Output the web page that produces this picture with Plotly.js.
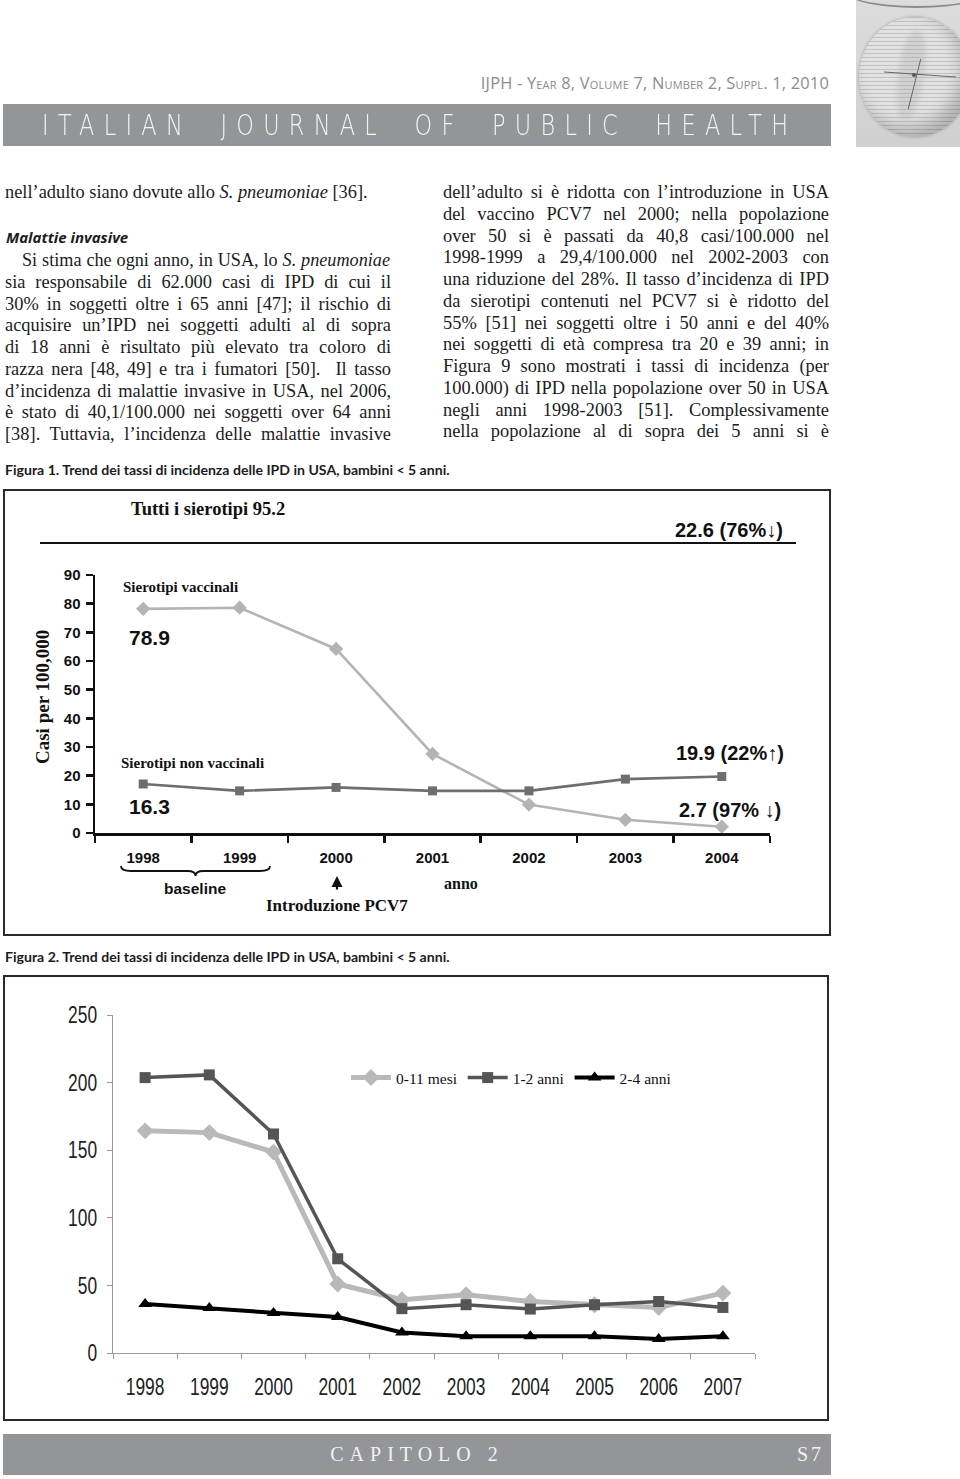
<!DOCTYPE html>
<html><head><meta charset="utf-8">
<script src="https://cdn.plot.ly/plotly-3.0.1.min.js"></script>
<style>
html,body{margin:0;padding:0;background:#fff;}
body{width:960px;height:1479px;position:relative;overflow:hidden;font-family:'Liberation Serif',serif;}
.abs{position:absolute;}
.ln{position:absolute;width:386px;height:22px;line-height:22px;font-size:18.4px;color:#1c1c1c;text-align:justify;text-align-last:justify;white-space:nowrap;}
.left{text-align-last:left;}
.cap{position:absolute;left:5px;font-family:'Lato',sans-serif;font-weight:bold;font-size:14.1px;color:#1c1c1c;line-height:16px;}
.box{position:absolute;border:2px solid #2a2a2a;background:#fff;box-sizing:border-box;}
</style>
</head><body>

<!-- header -->
<div class="abs" style="left:0;top:71px;width:829px;text-align:right;font-family:'Open Sans',sans-serif;font-size:16.4px;color:#8a8c8f;font-variant:small-caps;letter-spacing:0.2px;">IJPH - Year 8, Volume 7, Number 2, Suppl. 1, 2010</div>
<div class="abs" style="left:3px;top:104px;width:828px;height:42px;background:#939598;"></div>
<div class="abs" style="left:42px;top:106px;height:40px;line-height:40px;font-family:'DejaVu Sans',sans-serif;font-weight:200;font-size:28px;color:#f4f4f4;letter-spacing:11.6px;word-spacing:15px;white-space:nowrap;transform:scaleX(0.8);transform-origin:left center;">ITALIAN JOURNAL OF PUBLIC HEALTH</div>
<div class="abs" style="left:856px;top:0;width:104px;height:147px;background:linear-gradient(180deg,#dcdcdc,#d0d0d0);overflow:hidden;">
  <div class="abs" style="left:-14px;top:-30px;width:150px;height:36px;border-bottom:2px solid #8a8a8a;border-radius:50%;"></div>
  <div class="abs" style="left:3px;top:17px;width:112px;height:120px;border-radius:50%;background:repeating-linear-gradient(180deg,#c2c2c2 0px,#c2c2c2 1.5px,#e2e2e2 1.5px,#e2e2e2 4px);box-shadow:inset -9px -9px 16px rgba(0,0,0,0.22),0 0 3px #999;"></div>
  <div class="abs" style="left:42px;top:30px;width:26px;height:90px;border-radius:45%;background:rgba(150,150,150,0.22);filter:blur(2px);transform:rotate(8deg);"></div>
  <div class="abs" style="left:28px;top:74px;width:72px;height:1px;background:#666;transform:rotate(4deg);"></div>
  <div class="abs" style="left:58px;top:58px;width:1px;height:52px;background:#666;transform:rotate(14deg);"></div>
  <div class="abs" style="left:56px;top:73px;width:4px;height:4px;border-radius:50%;background:#555;"></div>
</div>

<!-- text columns -->
<div id="colL"></div>
<div id="colR"></div>

<div class="cap" style="top:462px;">Figura 1. Trend dei tassi di incidenza delle IPD in USA, bambini &lt; 5 anni.</div>
<div class="box" style="left:3px;top:489px;width:828px;height:447px;"><div id="fig1" style="width:824px;height:443px;"></div></div>

<div class="cap" style="top:949px;">Figura 2. Trend dei tassi di incidenza delle IPD in USA, bambini &lt; 5 anni.</div>
<div class="box" style="left:3px;top:975px;width:826px;height:446px;"><div id="fig2" style="width:822px;height:442px;"></div></div>

<!-- footer -->
<div class="abs" style="left:3px;top:1434px;width:828px;height:41px;background:#939598;"></div>
<div class="abs" style="left:3px;top:1434px;width:828px;height:41px;line-height:41px;text-align:center;font-family:'Liberation Serif',serif;font-size:20px;color:#f2f2f2;letter-spacing:6px;">CAPITOLO 2</div>
<div class="abs" style="left:780px;top:1434px;width:44px;height:41px;line-height:41px;text-align:right;font-family:'Liberation Serif',serif;font-size:20px;color:#f2f2f2;letter-spacing:3px;">S7</div>

<script>
// ---------- text lines ----------
const leftLines = [
  "nell’adulto siano dovute allo <i>S. pneumoniae</i> [36].",
  "Si stima che ogni anno, in USA, lo <i>S. pneumoniae</i>",
  "sia responsabile di 62.000 casi di IPD di cui il",
  "30% in soggetti oltre i 65 anni [47]; il rischio di",
  "acquisire un’IPD nei soggetti adulti al di sopra",
  "di 18 anni è risultato più elevato tra coloro di",
  "razza nera [48, 49] e tra i fumatori [50].&nbsp; Il tasso",
  "d’incidenza di malattie invasive in USA, nel 2006,",
  "è stato di 40,1/100.000 nei soggetti over 64 anni",
  "[38]. Tuttavia, l’incidenza delle malattie invasive"
];
const rightLines = [
  "dell’adulto si è ridotta con l’introduzione in USA",
  "del vaccino PCV7 nel 2000; nella popolazione",
  "over 50 si è passati da 40,8 casi/100.000 nel",
  "1998-1999 a 29,4/100.000 nel 2002-2003 con",
  "una riduzione del 28%. Il tasso d’incidenza di IPD",
  "da sierotipi contenuti nel PCV7 si è ridotto del",
  "55% [51] nei soggetti oltre i 50 anni e del 40%",
  "nei soggetti di età compresa tra 20 e 39 anni; in",
  "Figura 9 sono mostrati i tassi di incidenza (per",
  "100.000) di IPD nella popolazione over 50 in USA",
  "negli anni 1998-2003 [51]. Complessivamente",
  "nella popolazione al di sopra dei 5 anni si è"
];
const heading = "Malattie invasive";

(function(){
  const L = document.getElementById('colL');
  let h = '';
  h += '<div class="ln left" style="left:5px;top:181px;">'+leftLines[0]+'</div>';
  h += '<div class="abs" style="left:6px;top:226px;font-family:\'Open Sans\',sans-serif;font-weight:bold;font-style:italic;font-size:15px;color:#1c1c1c;line-height:22px;">'+heading+'</div>';
  for (let i=1;i<leftLines.length;i++){
    const top = 249 + (i-1)*21.75;
    const ind = (i===1)? 'left:22px;width:368px;' : 'left:5px;';
    h += '<div class="ln" style="'+ind+'top:'+top+'px;">'+leftLines[i]+'</div>';
  }
  L.innerHTML = h;
  const R = document.getElementById('colR');
  let r = '';
  for (let i=0;i<rightLines.length;i++){
    const top = 181 + i*21.75;
    r += '<div class="ln" style="left:443px;top:'+top+'px;">'+rightLines[i]+'</div>';
  }
  R.innerHTML = r;
  document.querySelectorAll('.ln').forEach(el=>{
    const w = el.clientWidth;
    let fs = 18.4;
    while (el.scrollWidth > w + 0.5 && fs > 15) { fs -= 0.2; el.style.fontSize = fs+'px'; }
  });
})();

// ---------- Figure 1 data ----------
const years1 = ['1998','1999','2000','2001','2002','2003','2004'];
const sierotipiVaccinali = [78.2, 78.6, 64.2, 27.6, 9.9, 4.6, 2.2];
const sierotipiNonVaccinali = [17.1, 14.7, 15.9, 14.7, 14.7, 18.8, 19.7];

const F1 = {x0:95, x1:770, y0:833, y1:575};
const p1x = x => (x - F1.x0)/(F1.x1 - F1.x0);
const p1y = y => (F1.y0 - y)/(F1.y0 - F1.y1);
const ser = "'Liberation Serif', 'Times New Roman', serif";
const san = "'Liberation Sans', Arial, sans-serif";

function ann1(text, x, y, opts){
  return Object.assign({text:text, xref:'paper', yref:'paper', x:p1x(x), y:p1y(y), showarrow:false,
    xanchor:'left', yanchor:'middle', font:{family:san, size:17, color:'#111', weight:'bold'}}, opts||{});
}
function bracePath(xa, xb, yt, yb){
  const xm = (xa+xb)/2, ym=(yt+yb)/2;
  const P = (x,y)=> p1x(x).toFixed(4)+','+p1y(y).toFixed(4);
  return 'M'+P(xa,yt)+' Q'+P(xa,ym)+' '+P(xa+10,ym)+' L'+P(xm-8,ym)+' Q'+P(xm,ym)+' '+P(xm,yb)
       +' Q'+P(xm,ym)+' '+P(xm+8,ym)+' L'+P(xb-10,ym)+' Q'+P(xb,ym)+' '+P(xb,yt);
}

const fig1Traces = [
  {x:years1, y:sierotipiVaccinali, type:'scatter', mode:'lines+markers', name:'Sierotipi vaccinali',
   line:{color:'#b4b4b4', width:2.6}, marker:{symbol:'diamond', size:11, color:'#b4b4b4'}, cliponaxis:false},
  {x:years1, y:sierotipiNonVaccinali, type:'scatter', mode:'lines+markers', name:'Sierotipi non vaccinali',
   line:{color:'#6e6e6e', width:2.6}, marker:{symbol:'square', size:9, color:'#6e6e6e'}, cliponaxis:false}
];
const fig1Layout = {
  width:824, height:443, margin:{l:90, r:59, t:84, b:101},
  paper_bgcolor:'#fff', plot_bgcolor:'#fff', showlegend:false,
  xaxis:{type:'category', range:[-0.5,6.5], showline:true, linecolor:'#111', linewidth:2.5,
         ticks:'outside', tickson:'boundaries', ticklen:7, tickwidth:2.5, tickcolor:'#111',
         showgrid:false, zeroline:false, ticklabelstandoff:9,
         tickfont:{family:san, size:15, color:'#111', weight:'bold'}},
  yaxis:{range:[0,90], tickvals:[0,10,20,30,40,50,60,70,80,90], showline:true, linecolor:'#111', linewidth:2.5,
         ticks:'outside', ticklen:7, tickwidth:2.5, tickcolor:'#111', showgrid:false, zeroline:false,
         ticklabelstandoff:2, tickfont:{family:san, size:15, color:'#111', weight:'bold'}},
  shapes:[
    {type:'line', xref:'paper', yref:'paper', x0:p1x(40), x1:p1x(796), y0:p1y(543), y1:p1y(543), line:{color:'#111', width:2}},
    {type:'path', xref:'paper', yref:'paper', path:bracePath(121, 270, 866, 876), line:{color:'#111', width:1.8}}
  ],
  annotations:[
    ann1('Tutti i sierotipi 95.2', 129, 509, {font:{family:ser, size:18.5, color:'#111', weight:'bold'}}),
    ann1('22.6 (76%↓)', 673, 530, {font:{family:san, size:20, color:'#111', weight:'bold'}}),
    ann1('Sierotipi vaccinali', 121, 587, {font:{family:ser, size:15, color:'#111', weight:'bold'}}),
    ann1('78.9', 127, 637, {font:{family:san, size:21, color:'#111', weight:'bold'}}),
    ann1('Sierotipi non vaccinali', 119, 763, {font:{family:ser, size:15, color:'#111', weight:'bold'}}),
    ann1('16.3', 127, 806, {font:{family:san, size:21, color:'#111', weight:'bold'}}),
    ann1('19.9 (22%↑)', 674, 753, {font:{family:san, size:20, color:'#111', weight:'bold'}}),
    ann1('2.7 (97% ↓)', 677, 810, {font:{family:san, size:20, color:'#111', weight:'bold'}}),
    ann1('baseline', 195, 888, {xanchor:'center', font:{family:san, size:15.5, color:'#111', weight:'bold'}}),
    ann1('anno', 461, 883, {xanchor:'center', font:{family:ser, size:16, color:'#111', weight:'bold'}}),
    ann1('Introduzione PCV7', 337, 905, {xanchor:'center', font:{family:ser, size:17, color:'#111', weight:'bold'}}),
    {text:'', xref:'paper', yref:'paper', x:p1x(337), y:p1y(876), ax:0, ay:15, showarrow:true,
     arrowhead:2, arrowsize:1, arrowwidth:2.2, arrowcolor:'#111'},
    ann1('Casi per 100,000', 42, 697, {xanchor:'center', textangle:-90, font:{family:ser, size:19, color:'#111', weight:'bold'}})
  ]
};
Plotly.newPlot('fig1', fig1Traces, fig1Layout, {staticPlot:true, displayModeBar:false});

// ---------- Figure 2 data ----------
const years2 = ['1998','1999','2000','2001','2002','2003','2004','2005','2006','2007'];
const mesi0_11 = [164.3, 163.0, 148.6, 51.0, 39.4, 43.1, 38.1, 35.7, 33.7, 44.3];
const anni1_2 = [203.7, 205.7, 162.0, 69.7, 32.8, 35.7, 32.5, 35.7, 38.1, 33.7];
const anni2_4 = [36.2, 33.2, 29.6, 26.6, 15.2, 12.3, 12.3, 12.3, 10.3, 12.3];
const seriesNames2 = ['0-11 mesi', '1-2 anni', '2-4 anni'];

const F2 = {x0:113, x1:755, y0:1353, y1:1015};
const p2x = x => (x - F2.x0)/(F2.x1 - F2.x0);
const p2y = y => (F2.y0 - y)/(F2.y0 - F2.y1);

const fig2Traces = [
  {x:years2, y:mesi0_11, type:'scatter', mode:'lines+markers', name:seriesNames2[0],
   line:{color:'#b9b9b9', width:5}, marker:{symbol:'diamond', size:13, color:'#b9b9b9'}, cliponaxis:false},
  {x:years2, y:anni1_2, type:'scatter', mode:'lines+markers', name:seriesNames2[1],
   line:{color:'#555555', width:3.5}, marker:{symbol:'square', size:11, color:'#555555'}, cliponaxis:false},
  {x:years2, y:anni2_4, type:'scatter', mode:'lines+markers', name:seriesNames2[2],
   line:{color:'#000000', width:4}, marker:{symbol:'triangle-up', size:12, color:'#000000'}, cliponaxis:false}
];
const fig2Layout = {
  width:822, height:442, margin:{l:108, r:72, t:38, b:66},
  paper_bgcolor:'#fff', plot_bgcolor:'#fff', showlegend:true,
  legend:{orientation:'h', x:p2x(346), y:p2y(1078), xanchor:'left', yanchor:'middle',
          font:{family:ser, size:15.5, color:'#111'}, itemwidth:40, tracegroupgap:0, bgcolor:'rgba(0,0,0,0)'},
  xaxis:{type:'category', range:[-0.5,9.5], showline:true, linecolor:'#9a9a9a', linewidth:1.2,
         ticks:'outside', tickson:'boundaries', ticklen:5, tickwidth:1, tickcolor:'#9a9a9a',
         showgrid:false, zeroline:false, ticklabelstandoff:13,
         tickfont:{family:san, size:23.5, color:'#222'}},
  yaxis:{range:[0,250], tickvals:[0,50,100,150,200,250], showline:true, linecolor:'#9a9a9a', linewidth:1.2,
         ticks:'outside', ticklen:5, tickwidth:1, tickcolor:'#9a9a9a', showgrid:false, zeroline:false,
         ticklabelstandoff:5, tickfont:{family:san, size:23.5, color:'#222'}}
};
Plotly.newPlot('fig2', fig2Traces, fig2Layout, {staticPlot:true, displayModeBar:false}).then(gd=>{
  gd.querySelectorAll('.xtick text, .ytick text').forEach(t=>{
    const x = parseFloat(t.getAttribute('x')) || 0;
    const tr = t.getAttribute('transform') || '';
    t.setAttribute('transform', tr + ' translate('+x+',0) scale(0.74,1) translate('+(-x)+',0)');
  });
});
</script>
</body></html>
